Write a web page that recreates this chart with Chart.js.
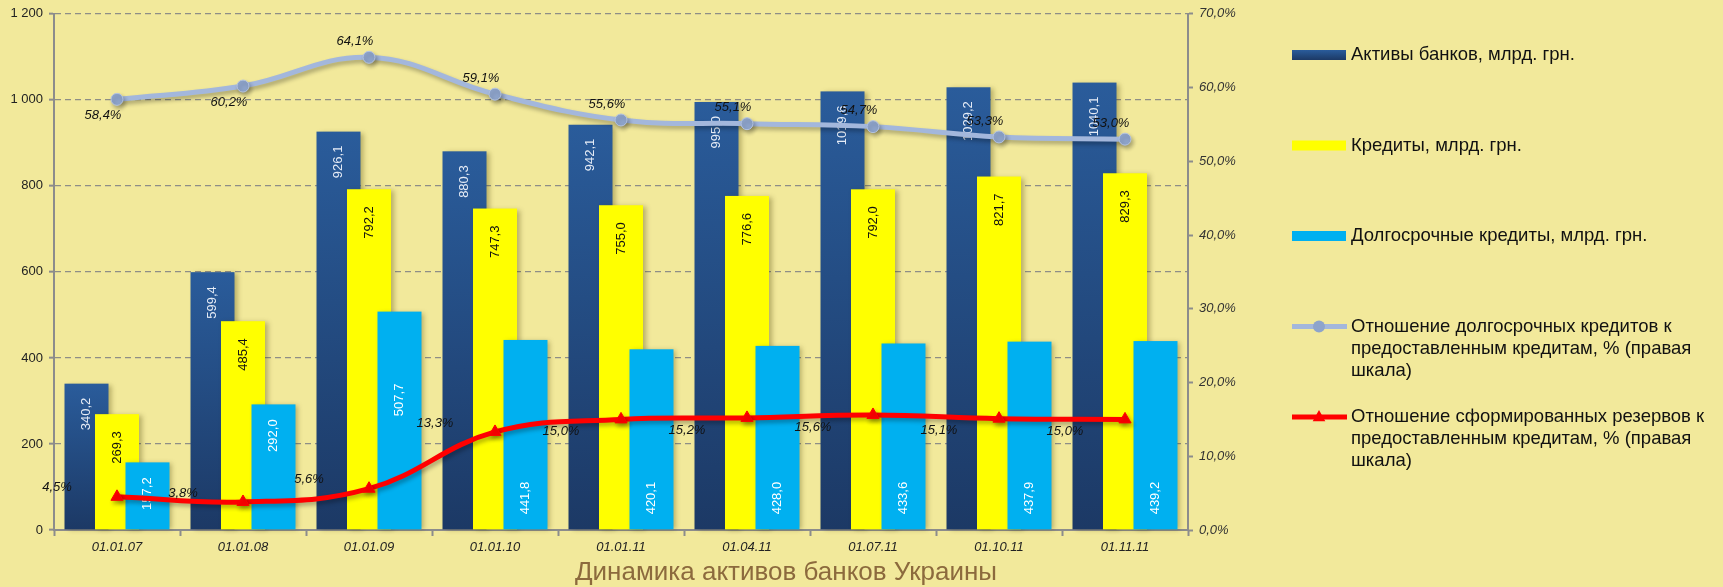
<!DOCTYPE html>
<html>
<head>
<meta charset="utf-8">
<script src="https://cdn.jsdelivr.net/npm/chart.js@4.4.1/dist/chart.umd.min.js"></script>
<style>
html, body { margin: 0; padding: 0; background: #f2e99b; }
#wrap { width: 1723px; height: 587px; position: relative; }
</style>
</head>
<body>
<div id="wrap"><canvas id="myChart"></canvas></div>
<script>
const labels = ['01.01.07', '01.01.08', '01.01.09', '01.01.10', '01.01.11', '01.04.11', '01.07.11', '01.10.11', '01.11.11'];
const assets = [340.2, 599.4, 926.1, 880.3, 942.1, 995.0, 1019.6, 1029.2, 1040.1];
const loans = [269.3, 485.4, 792.2, 747.3, 755.0, 776.6, 792.0, 821.7, 829.3];
const longLoans = [157.2, 292.0, 507.7, 441.8, 420.1, 428.0, 433.6, 437.9, 439.2];
const longShare = [58.4, 60.2, 64.1, 59.1, 55.6, 55.1, 54.7, 53.3, 53.0];
const reserveShare = [4.5, 3.8, 5.6, 13.3, 15.0, 15.2, 15.6, 15.1, 15.0];
const leftMax = 1200, leftStep = 200;
const rightMax = 70, rightStep = 10;
const chartTitle = 'Динамика активов банков Украины';

// label placement inside the light blue bars: gap below the bar top, or null = near the base
const cyanLabelTop = [15, 15, 72, null, null, null, null, null, null];

const FONT = "'Liberation Sans', Arial, sans-serif";
Chart.defaults.font.family = FONT;

const num = v => v.toFixed(1).replace('.', ',');
const pct = v => v.toFixed(1).replace('.', ',') + '%';
const thousands = v => String(v).replace(/\B(?=(\d{3})+(?!\d))/g, ' ');

function darkGradient(ctx, top, bottom) {
    const g = ctx.createLinearGradient(0, top, 0, bottom);
    g.addColorStop(0, '#2a5c9b');
    g.addColorStop(1, '#1c3965');
    return g;
}

function barLabel(ctx, bar, text, color, atBase, gap) {
    ctx.save();
    ctx.translate(bar.x, atBase ? bar.base - gap : bar.y + gap);
    ctx.rotate(-Math.PI / 2);
    ctx.textAlign = atBase ? 'left' : 'right';
    ctx.textBaseline = 'middle';
    ctx.fillStyle = color;
    ctx.font = '13px ' + FONT;
    ctx.fillText(text, 0, 0);
    ctx.restore();
}

// draw bars left to right so the right bar overlaps, then lines on top
const drawOrder = {
    id: 'drawOrder',
    beforeDatasetsDraw(chart) {
        const ctx = chart.ctx;
        [0, 1, 2].forEach(i => {
            const meta = chart.getDatasetMeta(i);
            ctx.save();
            ctx.shadowColor = 'rgba(70,60,0,0.35)';
            ctx.shadowBlur = 5;
            ctx.shadowOffsetX = 3;
            ctx.shadowOffsetY = 1;
            meta.data.forEach(bar => {
                const p = bar.getProps(['x', 'y', 'base', 'width'], true);
                ctx.fillStyle = i === 0 ? darkGradient(ctx, p.y, p.base) : chart.data.datasets[i].backgroundColor;
                ctx.fillRect(p.x - p.width / 2, p.y, p.width, p.base - p.y);
            });
            ctx.restore();
        });
        [0, 1, 2].forEach(i => {
            const vals = chart.data.datasets[i].data;
            chart.getDatasetMeta(i).data.forEach((bar, j) => {
                const p = bar.getProps(['x', 'y', 'base'], true);
                if (i === 0) barLabel(ctx, p, num(vals[j]), '#e6ecf6', false, 14);
                if (i === 1) barLabel(ctx, p, num(vals[j]), '#111', false, 17);
                if (i === 2) {
                    const gap = cyanLabelTop[j];
                    barLabel(ctx, p, num(vals[j]), '#ffffff', gap === null, gap === null ? 15 : gap);
                }
            });
        });
        [3, 4].forEach(i => {
            ctx.save();
            ctx.shadowColor = 'rgba(0,0,0,0.3)';
            ctx.shadowBlur = 4;
            ctx.shadowOffsetX = 2;
            ctx.shadowOffsetY = 3;
            chart.getDatasetMeta(i).controller.draw();
            ctx.restore();
        });
        ctx.save();
        ctx.font = 'italic 13px ' + FONT;
        ctx.fillStyle = '#111';
        ctx.textAlign = 'center';
        ctx.textBaseline = 'middle';
        chart.getDatasetMeta(3).data.forEach((pt, j) => {
            const below = j < longShare.length - 1 && longShare[j + 1] > longShare[j];
            ctx.fillText(pct(longShare[j]), pt.x - 14, pt.y + (below ? 16 : -16));
        });
        chart.getDatasetMeta(4).data.forEach((pt, j) => {
            ctx.fillText(pct(reserveShare[j]), pt.x - 60, pt.y + (reserveShare[j] < 14 ? -9 : 12));
        });
        ctx.restore();
        return false;
    },
    afterDraw(chart) {
        const ctx = chart.ctx;
        const lx = 1292, tx = 1351;
        chart.data.datasets.forEach((ds, i) => {
            const y = 55 + i * 90.5;
            ctx.save();
            if (ds.type === 'line') {
                ctx.strokeStyle = ds.borderColor;
                ctx.lineWidth = 5;
                ctx.beginPath();
                ctx.moveTo(lx, y);
                ctx.lineTo(lx + 55, y);
                ctx.stroke();
                ctx.fillStyle = ds.pointBackgroundColor;
                ctx.beginPath();
                if (ds.pointStyle === 'triangle') {
                    const r = 7;
                    ctx.moveTo(lx + 27, y - r);
                    ctx.lineTo(lx + 27 - r * 0.9, y + r * 0.6);
                    ctx.lineTo(lx + 27 + r * 0.9, y + r * 0.6);
                    ctx.closePath();
                } else {
                    ctx.arc(lx + 27, y, 6, 0, Math.PI * 2);
                }
                ctx.fill();
            } else {
                ctx.fillStyle = i === 0 ? darkGradient(ctx, y - 5, y + 5) : ds.backgroundColor;
                ctx.fillRect(lx, y - 5, 54, 10);
            }
            ctx.font = '18.5px ' + FONT;
            ctx.fillStyle = '#111';
            ctx.textBaseline = 'middle';
            const words = ds.label.split(' ');
            let line = '', ly = y;
            words.forEach(w => {
                const test = line ? line + ' ' + w : w;
                if (ctx.measureText(test).width > 372 && line) {
                    ctx.fillText(line, tx, ly);
                    line = w;
                    ly += 22;
                } else {
                    line = test;
                }
            });
            ctx.fillText(line, tx, ly);
            ctx.restore();
        });
        ctx.save();
        ctx.font = '26px ' + FONT;
        ctx.fillStyle = '#8c6a3d';
        ctx.textAlign = 'center';
        ctx.textBaseline = 'middle';
        ctx.fillText(chartTitle, 786, 573);
        ctx.restore();
    }
};

const data = {
    labels: labels,
    datasets: [{
        label: 'Активы банков, млрд. грн.',
        data: assets,
        backgroundColor: '#25528a',
        yAxisID: 'y'
    }, {
        label: 'Кредиты, млрд. грн.',
        data: loans,
        backgroundColor: '#ffff00',
        yAxisID: 'y'
    }, {
        label: 'Долгосрочные кредиты, млрд. грн.',
        data: longLoans,
        backgroundColor: '#00b0f0',
        yAxisID: 'y'
    }, {
        type: 'line',
        label: 'Отношение долгосрочных кредитов к предоставленным кредитам, % (правая шкала)',
        data: longShare,
        yAxisID: 'y1',
        borderColor: '#a3b7dc',
        borderWidth: 5,
        tension: 0.4,
        pointRadius: 6,
        pointBackgroundColor: '#8ea4cb',
        pointBorderColor: '#b3c3e0',
        pointBorderWidth: 1
    }, {
        type: 'line',
        label: 'Отношение сформированных резервов к предоставленным кредитам, % (правая шкала)',
        data: reserveShare,
        yAxisID: 'y1',
        borderColor: '#ff0000',
        borderWidth: 5,
        tension: 0.4,
        pointStyle: 'triangle',
        pointRadius: 7,
        pointBackgroundColor: '#ff0000',
        pointBorderColor: '#ff0000',
        pointBorderWidth: 1
    }]
};

const config = {
    type: 'bar',
    data: data,
    options: {
        responsive: true,
        maintainAspectRatio: false,
        animation: false,
        categoryPercentage: 0.726,
        barPercentage: 1.443,
        layout: { padding: { top: 13, left: 0, right: 0, bottom: 0 } },
        plugins: {
            legend: { display: false },
            tooltip: { enabled: false },
            title: { display: false }
        },
        scales: {
            x: {
                offset: true,
                grid: { offset: true, drawOnChartArea: false, tickLength: 6, tickColor: '#8c8c8c', tickWidth: 2 },
                border: { color: '#8c8c8c', width: 2 },
                ticks: { font: { size: 13, style: 'italic' }, color: '#222', padding: 4, maxRotation: 0 },
                afterFit: s => { s.height = 57; }
            },
            y: {
                position: 'left',
                min: 0,
                max: leftMax,
                ticks: { stepSize: leftStep, callback: v => thousands(v), font: { size: 13 }, color: '#222', padding: 6 },
                grid: { color: '#8e8e86', lineWidth: 1.3, tickLength: 5, tickColor: '#8c8c8c', tickWidth: 2 },
                border: { color: '#8c8c8c', width: 2, dash: [6, 4] },
                afterFit: s => { s.width = 54; }
            },
            y1: {
                position: 'right',
                min: 0,
                max: rightMax,
                ticks: { stepSize: rightStep, callback: v => pct(v), font: { size: 13, style: 'italic' }, color: '#333', padding: 6 },
                grid: { drawOnChartArea: false, tickLength: 5, tickColor: '#8c8c8c', tickWidth: 2 },
                border: { color: '#8c8c8c', width: 2 },
                afterFit: s => { s.width = 535; }
            }
        }
    },
    plugins: [drawOrder]
};

var myChart = new Chart(document.getElementById('myChart'), config);
</script>
</body>
</html>
